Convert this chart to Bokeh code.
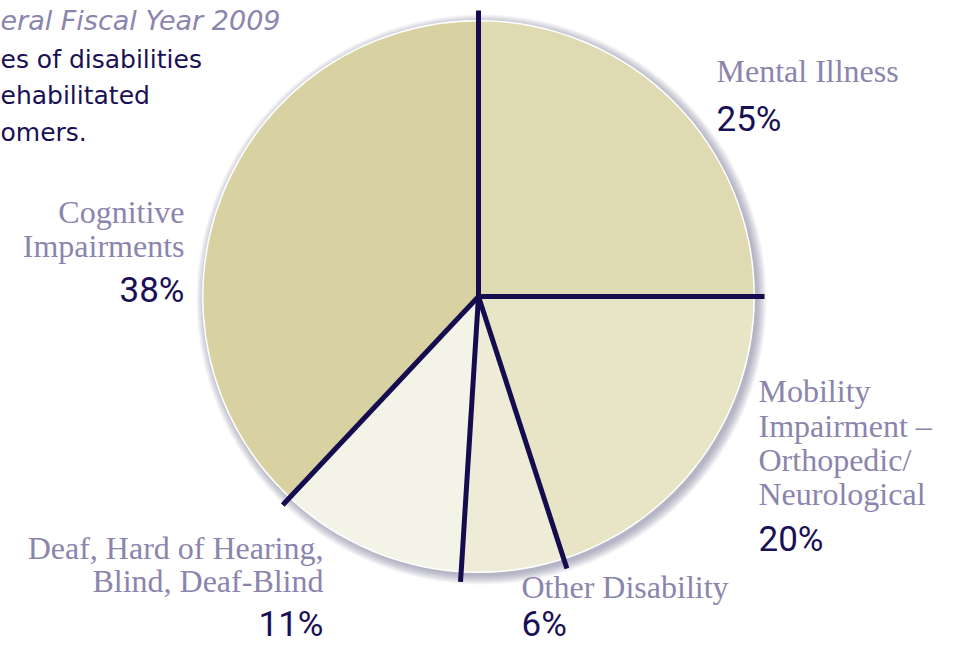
import numpy as np
from bokeh.plotting import figure
from bokeh.models import Range1d
from bokeh.core.properties import value
from bokeh.embed import file_html
from bokeh.resources import INLINE

# ---- data ----
categories = ["Mental Illness",
              "Mobility Impairment – Orthopedic/ Neurological",
              "Other Disability",
              "Deaf, Hard of Hearing, Blind, Deaf-Blind",
              "Cognitive Impairments"]
percents = [25, 20, 6, 11, 38]
pct_labels = ["25%", "20%", "6%", "11%", "38%"]
label_lines = [["Mental Illness"],
               ["Mobility", "Impairment –", "Orthopedic/", "Neurological"],
               ["Other Disability"],
               ["Deaf, Hard of Hearing,", "Blind, Deaf-Blind"],
               ["Cognitive", "Impairments"]]
title_line = "eral Fiscal Year 2009"
subtitle_lines = ["es of disabilities", "ehabilitated", "omers."]

# ---- styles / layout ----
slice_colors = ["#e0dab2", "#e8e4c6", "#eeebd6", "#f4f3e8", "#d8d1a1"]
LABEL_COLOR = "#8a85ad"
PCT_COLOR = "#1a1056"
SEP_COLOR = "#150b4f"
CX, CY, R = 478.0, -296.0, 275.0
LBL_FS, PCT_FS = 32, 35
OFF = 0.38  # empirical baseline correction (em)

# label anchors: (x, first baseline, line step, pct baseline, align)
anchors = [(716, 83, 34.3, 132, "left"),
           (758, 403, 34.3, 552, "left"),
           (521, 599, 34.3, 637, "left"),
           (323, 560, 33.0, 637, "right"),
           (184, 224, 34.0, 303, "right")]

W, H = 940, 648
p = figure(width=W, height=H, output_backend="svg", toolbar_location=None,
           x_range=Range1d(0, W), y_range=Range1d(-H, 0),
           min_border=0, outline_line_color=None)
p.axis.visible = False
p.grid.visible = False
p.background_fill_color = "white"
p.border_fill_color = "white"

# soft shadow
for k in range(1, 11):
    p.circle(x=CX + 3, y=CY - 3, radius=R + k, fill_color="#5a5488",
             fill_alpha=0.055, line_color=None)
p.circle(x=CX, y=CY, radius=R + 1.5, fill_color="white", line_color=None)

# wedges (clockwise from 12 o'clock)
fr = np.array(percents, dtype=float) / sum(percents)
ends = np.pi / 2 - np.cumsum(fr) * 2 * np.pi
starts = np.concatenate([[np.pi / 2], ends[:-1]])
p.wedge(x=[CX] * len(fr), y=[CY] * len(fr), radius=R,
        start_angle=list(ends), end_angle=list(starts), direction="anticlock",
        fill_color=slice_colors, line_color=None)

# separators
RL = 286.0
bounds = list(starts)
p.segment(x0=[CX] * len(bounds), y0=[CY] * len(bounds),
          x1=[CX + RL * np.cos(a) for a in bounds],
          y1=[CY + RL * np.sin(a) for a in bounds],
          line_color=SEP_COLOR, line_width=5, line_cap="butt")

# labels
for lines, pct, (ax, b0, step, pb, al) in zip(label_lines, pct_labels, anchors):
    p.text(x=[ax] * len(lines),
           y=[-(b0 + i * step - OFF * LBL_FS) for i in range(len(lines))],
           text=lines, text_align=al, text_baseline="alphabetic",
           text_font=value("Liberation Serif"), text_font_size=f"{LBL_FS}px",
           text_color=LABEL_COLOR)
    p.text(x=[ax], y=[-(pb - OFF * PCT_FS)], text=[pct], text_align=al,
           text_baseline="alphabetic",
           text_font=value("Roboto"), text_font_size=f"{PCT_FS}px",
           text_color=PCT_COLOR)

# title fragments (cut by the left edge in the original)
p.text(x=[0], y=[-(30 - OFF * 27)], text=[title_line], text_align="left",
       text_baseline="alphabetic", text_font=value("DejaVu Sans"),
       text_font_style="italic", text_font_size="27px", text_color=LABEL_COLOR)
p.text(x=[0] * 3, y=[-(b - OFF * 25) for b in (68, 104.5, 141)],
       text=subtitle_lines, text_align="left",
       text_baseline="alphabetic", text_font=value("DejaVu Sans"),
       text_font_size="25px", text_color=PCT_COLOR)

open("out.html", "w").write(file_html(p, INLINE))
